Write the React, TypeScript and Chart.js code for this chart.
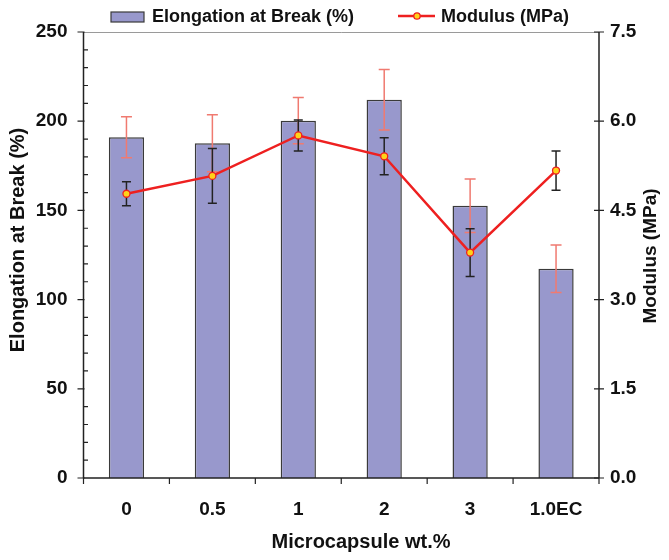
import React, { useEffect, useRef } from 'react';
import { Chart, registerables } from 'chart.js';

Chart.register(...registerables);

const categories = ['0', '0.5', '1', '2', '3', '1.0EC'];
const elongation = [191, 187.6, 200.3, 212, 152.6, 117.3];
const elongationErr = [11.5, 16, 13, 17, 15, 13.3];
const modulus = [4.78, 5.08, 5.76, 5.41, 3.79, 5.17];
const modulusErr = [0.2, 0.46, 0.26, 0.31, 0.4, 0.33];
const leftMajorTicks = [0, 50, 100, 150, 200, 250];
const leftMinorTicks = [10, 20, 30, 40, 60, 70, 80, 90, 110, 120, 130, 140, 160, 170, 180, 190, 210, 220, 230, 240];
const rightTicks = [0, 1.5, 3, 4.5, 6, 7.5];

const FONT = "'Liberation Sans', Arial, Helvetica, sans-serif";
const BAR_FILL = 'rgb(152,152,204)';
const BAR_BORDER = '#3a3a3a';
const LINE_RED = '#ee2020';
const POINT_FILL = '#ffd21a';
const ERR_SALMON = '#f07a70';
const ERR_DARK = '#222222';

const errorBarPlugin = {
  id: 'errorBars',
  afterDatasetDraw(chart: any, args: any) {
    if (args.index !== 0) return;
    const ctx = chart.ctx;
    const meta = chart.getDatasetMeta(0);
    const y = chart.scales.y;
    const y1 = chart.scales.y1;
    ctx.save();
    ctx.lineWidth = 1.5;
    ctx.strokeStyle = ERR_SALMON;
    meta.data.forEach((bar: any, i: number) => {
      const cx = bar.x;
      const top = y.getPixelForValue(elongation[i] + elongationErr[i]);
      const bot = y.getPixelForValue(elongation[i] - elongationErr[i]);
      ctx.beginPath();
      ctx.moveTo(cx, top); ctx.lineTo(cx, bot);
      ctx.moveTo(cx - 5.5, top); ctx.lineTo(cx + 5.5, top);
      ctx.moveTo(cx - 5.5, bot); ctx.lineTo(cx + 5.5, bot);
      ctx.stroke();
    });
    ctx.strokeStyle = ERR_DARK;
    meta.data.forEach((bar: any, i: number) => {
      const cx = bar.x;
      const top = y1.getPixelForValue(modulus[i] + modulusErr[i]);
      const bot = y1.getPixelForValue(modulus[i] - modulusErr[i]);
      ctx.beginPath();
      ctx.moveTo(cx, top); ctx.lineTo(cx, bot);
      ctx.moveTo(cx - 4.5, top); ctx.lineTo(cx + 4.5, top);
      ctx.moveTo(cx - 4.5, bot); ctx.lineTo(cx + 4.5, bot);
      ctx.stroke();
    });
    ctx.restore();
  },
};

const framePlugin = {
  id: 'frame',
  afterDraw(chart: any) {
    const ctx = chart.ctx;
    const { left, right, top, bottom } = chart.chartArea;
    const x = chart.scales.x;
    const y = chart.scales.y;
    const y1 = chart.scales.y1;
    ctx.save();
    // top frame line
    ctx.strokeStyle = '#9a9a9a';
    ctx.lineWidth = 1;
    ctx.beginPath();
    ctx.moveTo(left, top + 0.5); ctx.lineTo(right, top + 0.5);
    ctx.stroke();
    // axes
    ctx.strokeStyle = '#222';
    ctx.lineWidth = 1.5;
    ctx.beginPath();
    ctx.moveTo(left, top); ctx.lineTo(left, bottom);
    ctx.moveTo(right, top); ctx.lineTo(right, bottom);
    ctx.moveTo(left, bottom); ctx.lineTo(right, bottom);
    ctx.stroke();
    ctx.lineWidth = 1.2;
    ctx.beginPath();
    leftMajorTicks.forEach((v) => {
      const py = y.getPixelForValue(v);
      ctx.moveTo(left - 6, py); ctx.lineTo(left + 1, py);
    });
    leftMinorTicks.forEach((v) => {
      const py = y.getPixelForValue(v);
      ctx.moveTo(left, py); ctx.lineTo(left + 4.5, py);
    });
    rightTicks.forEach((v) => {
      const py = y1.getPixelForValue(v);
      ctx.moveTo(right - 5, py); ctx.lineTo(right + 5, py);
    });
    for (let i = 0; i <= categories.length; i++) {
      const px = x.getPixelForValue(i - 0.5);
      ctx.moveTo(px, bottom); ctx.lineTo(px, bottom + 6);
    }
    ctx.stroke();

    // titles
    ctx.fillStyle = '#111';
    ctx.font = `bold 20px ${FONT}`;
    ctx.textAlign = 'center';
    ctx.textBaseline = 'middle';
    ctx.fillText('Microcapsule wt.%', 361, 542);
    ctx.save();
    ctx.translate(18, 240);
    ctx.rotate(-Math.PI / 2);
    ctx.fillText('Elongation at Break (%)', 0, 0);
    ctx.restore();
    ctx.save();
    ctx.font = `bold 19px ${FONT}`;
    ctx.translate(651, 256);
    ctx.rotate(-Math.PI / 2);
    ctx.fillText('Modulus (MPa)', 0, 0);
    ctx.restore();

    // legend
    ctx.fillStyle = BAR_FILL;
    ctx.fillRect(111, 12, 33, 10);
    ctx.strokeStyle = BAR_BORDER;
    ctx.lineWidth = 1.2;
    ctx.strokeRect(111, 12, 33, 10);
    ctx.fillStyle = '#111';
    ctx.textAlign = 'left';
    ctx.font = `bold 18px ${FONT}`;
    ctx.fillText('Elongation at Break (%)', 152, 17);
    ctx.strokeStyle = LINE_RED;
    ctx.lineWidth = 2.5;
    ctx.beginPath();
    ctx.moveTo(398, 16); ctx.lineTo(435, 16);
    ctx.stroke();
    ctx.beginPath();
    ctx.arc(417, 16, 3.2, 0, Math.PI * 2);
    ctx.fillStyle = POINT_FILL;
    ctx.fill();
    ctx.lineWidth = 1.3;
    ctx.stroke();
    ctx.fillStyle = '#111';
    ctx.fillText('Modulus (MPa)', 441, 17);
    ctx.restore();
  },
};

export default function App() {
  const ref = useRef<HTMLCanvasElement | null>(null);
  useEffect(() => {
    if (!ref.current) return;
    const tickFont = { family: FONT, size: 19, weight: 'bold' };
    const chart = new Chart(ref.current, {
      type: 'bar',
      data: {
        labels: categories,
        datasets: [
          {
            type: 'bar',
            label: 'Elongation at Break (%)',
            data: elongation,
            backgroundColor: BAR_FILL,
            borderColor: BAR_BORDER,
            borderWidth: 1.5,
            barPercentage: 0.41,
            categoryPercentage: 1,
            yAxisID: 'y',
            order: 1,
          },
          {
            type: 'line',
            label: 'Modulus (MPa)',
            data: modulus,
            borderColor: LINE_RED,
            borderWidth: 2.5,
            pointBackgroundColor: POINT_FILL,
            pointBorderColor: LINE_RED,
            pointBorderWidth: 1.3,
            pointRadius: 3.5,
            tension: 0,
            yAxisID: 'y1',
            order: 0,
          },
        ],
      },
      options: {
        animation: false,
        responsive: false,
        devicePixelRatio: 1,
        layout: { padding: { top: 32, left: 0, right: 0, bottom: 0 } },
        plugins: { legend: { display: false }, tooltip: { enabled: false } },
        scales: {
          x: {
            type: 'category',
            offset: true,
            grid: { display: false, drawTicks: false },
            border: { display: false },
            ticks: { color: '#111', font: tickFont, padding: 20, maxRotation: 0, autoSkip: false },
            afterFit: (s: any) => { s.height = 82; },
          },
          y: {
            position: 'left',
            min: 0,
            max: 250,
            grid: { display: false, drawTicks: false },
            border: { display: false },
            ticks: { stepSize: 50, color: '#111', font: tickFont, padding: 16 },
            afterFit: (s: any) => { s.width = 83.5; },
          },
          y1: {
            position: 'right',
            min: 0,
            max: 7.5,
            grid: { display: false, drawTicks: false },
            border: { display: false },
            ticks: {
              stepSize: 1.5,
              color: '#111',
              font: tickFont,
              padding: 11,
              callback: (v: any) => Number(v).toFixed(1),
            },
            afterFit: (s: any) => { s.width = 70; },
          },
        },
      },
      plugins: [errorBarPlugin, framePlugin],
    } as any);
    return () => chart.destroy();
  }, []);
  return (
    <div style={{ position: 'absolute', left: 0, top: 0, width: 669, height: 560, background: '#fff' }}>
      <canvas ref={ref} width={669} height={560} />
    </div>
  );
}
